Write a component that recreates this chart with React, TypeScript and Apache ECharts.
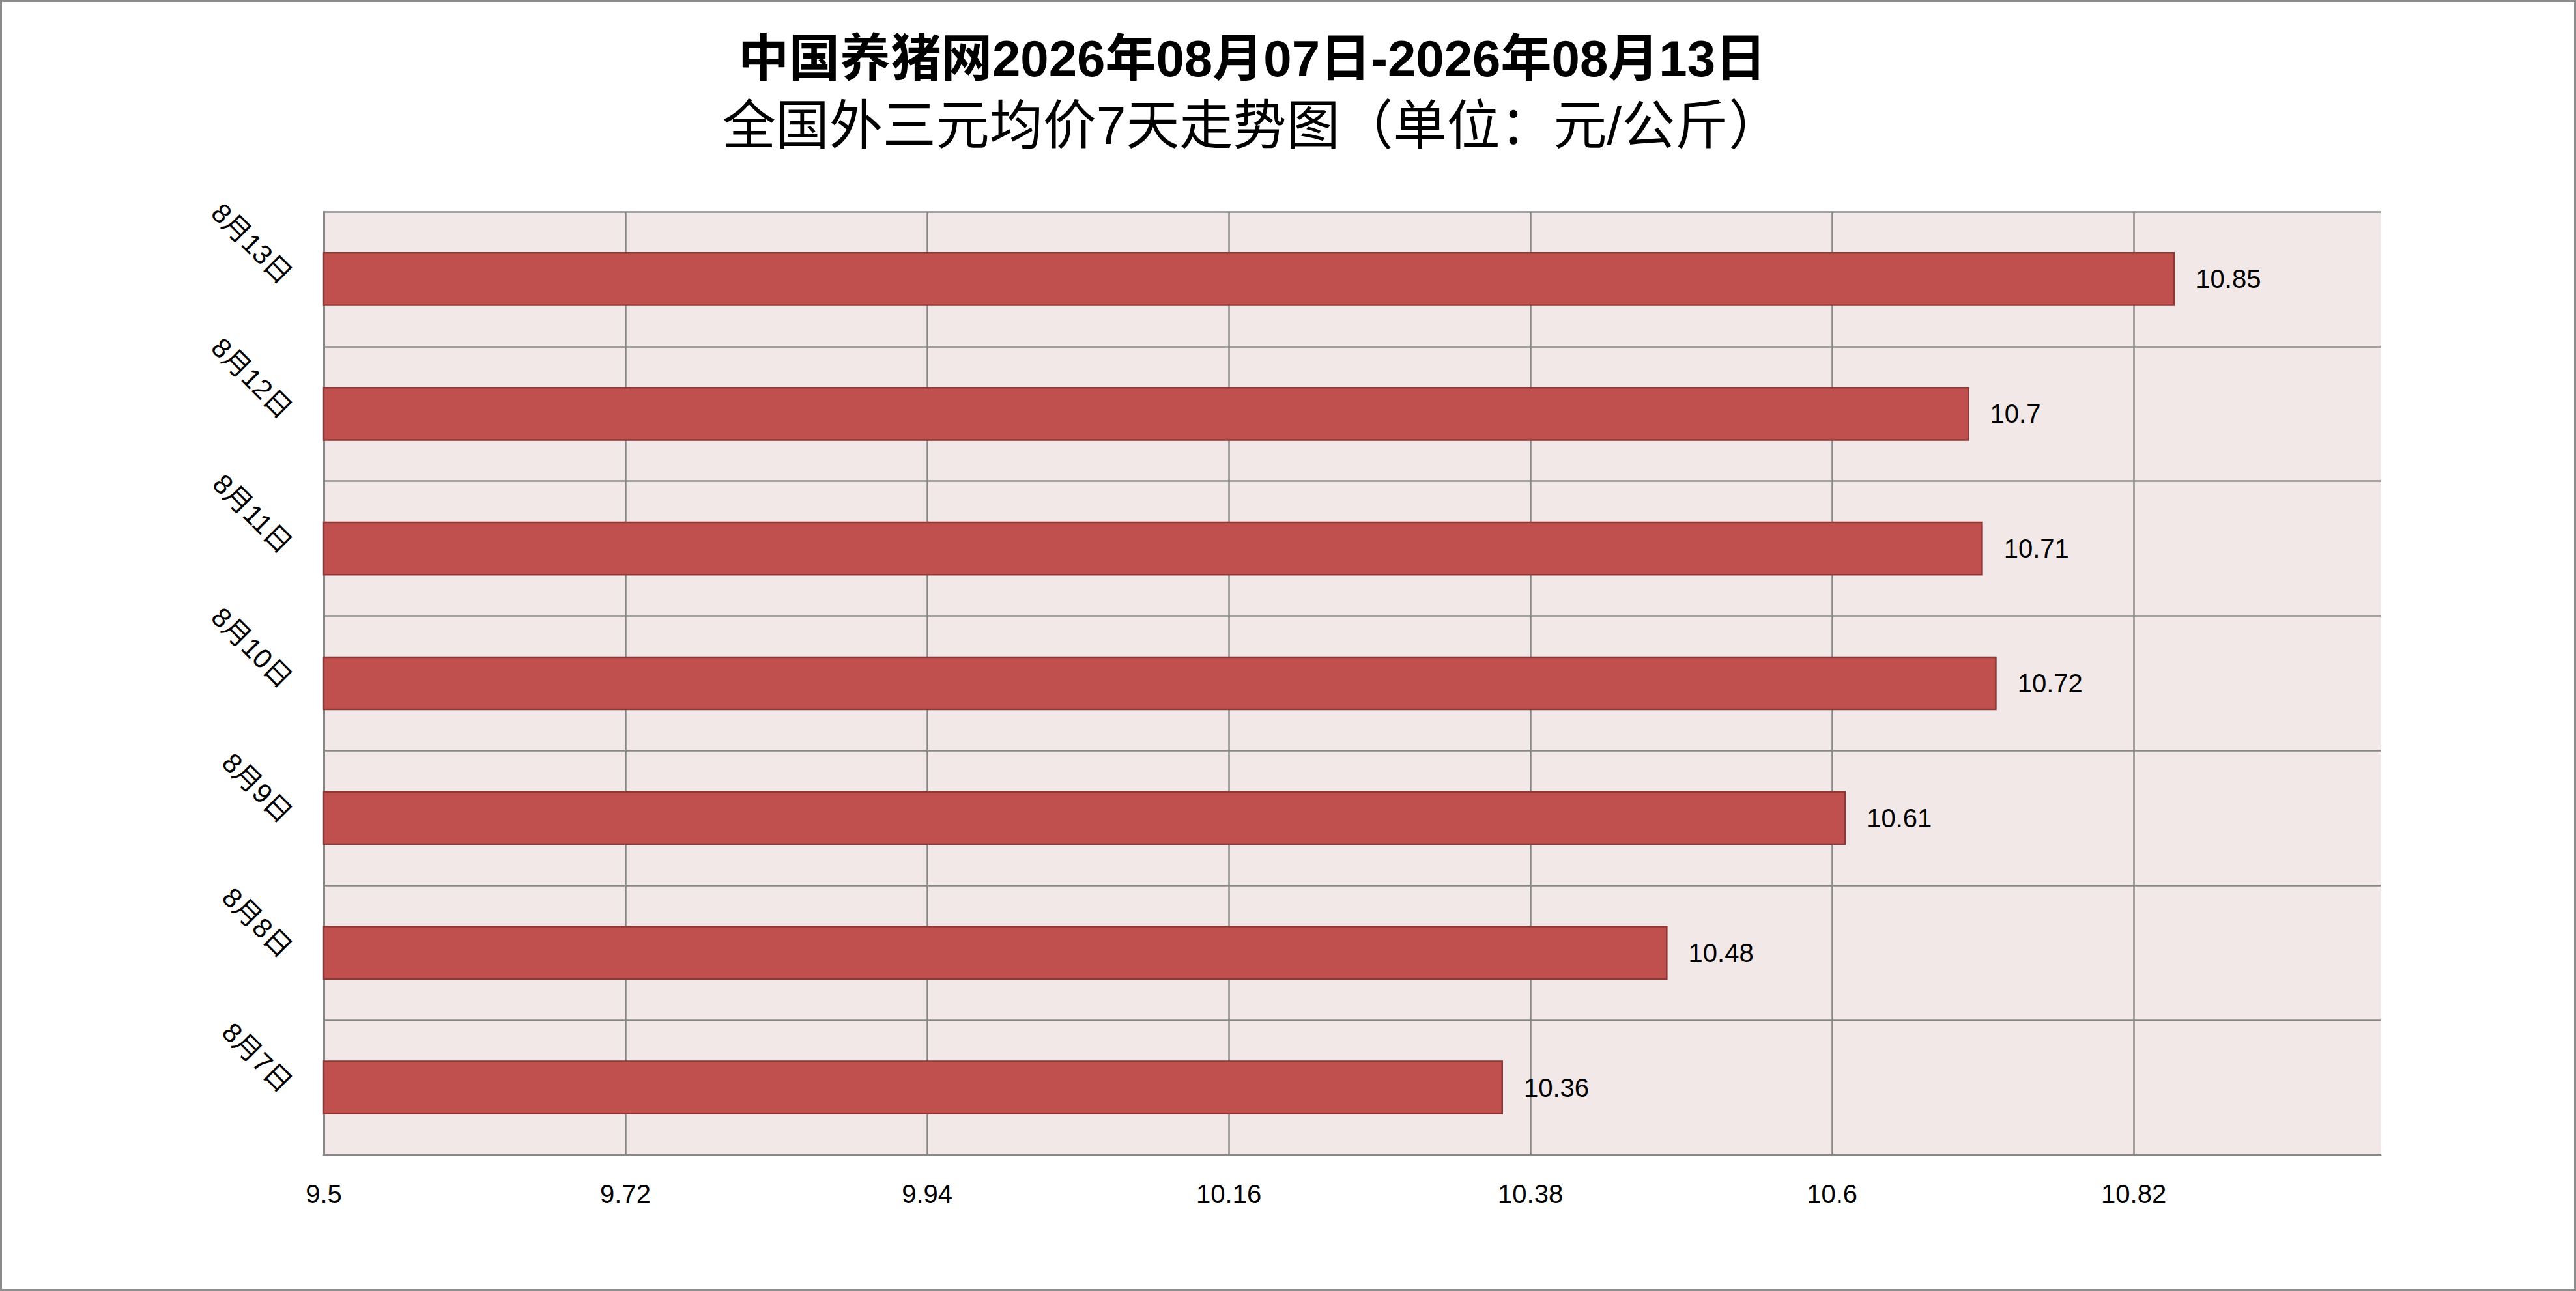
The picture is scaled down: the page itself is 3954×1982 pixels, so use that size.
import React, { useEffect, useRef } from "react";
import * as echarts from "echarts";

const titleLine1 = "中国养猪网2026年08月07日-2026年08月13日";
const titleLine2 = "全国外三元均价7天走势图（单位：元/公斤）";
const categories = ["8月7日", "8月8日", "8月9日", "8月10日", "8月11日", "8月12日", "8月13日"];
const values = [10.36, 10.48, 10.61, 10.72, 10.71, 10.7, 10.85];
const axisMin = 9.5;
const axisMax = 11;
const axisInterval = 0.22;

const W = 3954;
const H = 1982;

export default function App() {
  const ref = useRef<HTMLDivElement>(null);
  useEffect(() => {
    if (!ref.current) return;
    const chart = echarts.init(ref.current, null, { renderer: "svg" });
    const gray = "#878787";
    chart.setOption({
      animation: false,
      backgroundColor: "#ffffff",
      title: [
        {
          text: titleLine1,
          left: 1922,
          top: 44,
          padding: 0,
          textAlign: "center",
          textStyle: {
            fontFamily: "Liberation Sans, Noto Sans CJK SC",
            fontSize: 78,
            lineHeight: 92,
            fontWeight: "bold",
            color: "#000000",
          },
        },
        {
          text: titleLine2,
          left: 1922,
          top: 144,
          padding: 0,
          textAlign: "center",
          textStyle: {
            fontFamily: "Liberation Sans, Noto Sans CJK SC",
            fontSize: 82,
            lineHeight: 96,
            fontWeight: "normal",
            color: "#000000",
          },
        },
      ],
      graphic: [
        {
          type: "rect",
          shape: { x: 1.5, y: 1.5, width: W - 3, height: H - 3 },
          style: { fill: "none", stroke: "#8c8c8c", lineWidth: 3 },
          silent: true,
        },
      ],
      grid: {
        left: 497,
        right: W - 3654,
        top: 325,
        bottom: H - 1773,
        show: true,
        backgroundColor: "#F2E8E8",
        borderWidth: 0,
        containLabel: false,
      },
      xAxis: {
        type: "value",
        min: axisMin,
        max: axisMax,
        interval: axisInterval,
        axisLine: { show: true, lineStyle: { color: gray, width: 3 } },
        axisTick: { show: false },
        axisLabel: {
          show: true,
          margin: 40,
          showMaxLabel: false,
          fontFamily: "Liberation Sans",
          fontSize: 40,
          color: "#000000",
        },
        splitLine: {
          show: true,
          showMaxLine: false,
          lineStyle: { color: gray, width: 2.5 },
        },
      },
      yAxis: {
        type: "category",
        data: categories,
        boundaryGap: true,
        axisLine: { show: true, lineStyle: { color: gray, width: 3 } },
        axisTick: { show: false },
        axisLabel: {
          rotate: -45,
          margin: 56,
          fontFamily: "Liberation Sans, Noto Sans CJK SC",
          fontSize: 42,
          color: "#000000",
          interval: 0,
        },
        splitLine: { show: true, lineStyle: { color: gray, width: 2.5 } },
      },
      series: [
        {
          type: "bar",
          data: values,
          barWidth: "40%",
          itemStyle: {
            color: "#C0504D",
            borderColor: "#8C3836",
            borderWidth: 2.5,
          },
          label: {
            show: true,
            position: "right",
            distance: 32,
            fontFamily: "Liberation Sans",
            fontSize: 40,
            color: "#000000",
          },
        },
      ],
    });
    return () => chart.dispose();
  }, []);
  return (
    <div
      ref={ref}
      style={{ position: "fixed", left: 0, top: 0, width: W, height: H }}
    />
  );
}
